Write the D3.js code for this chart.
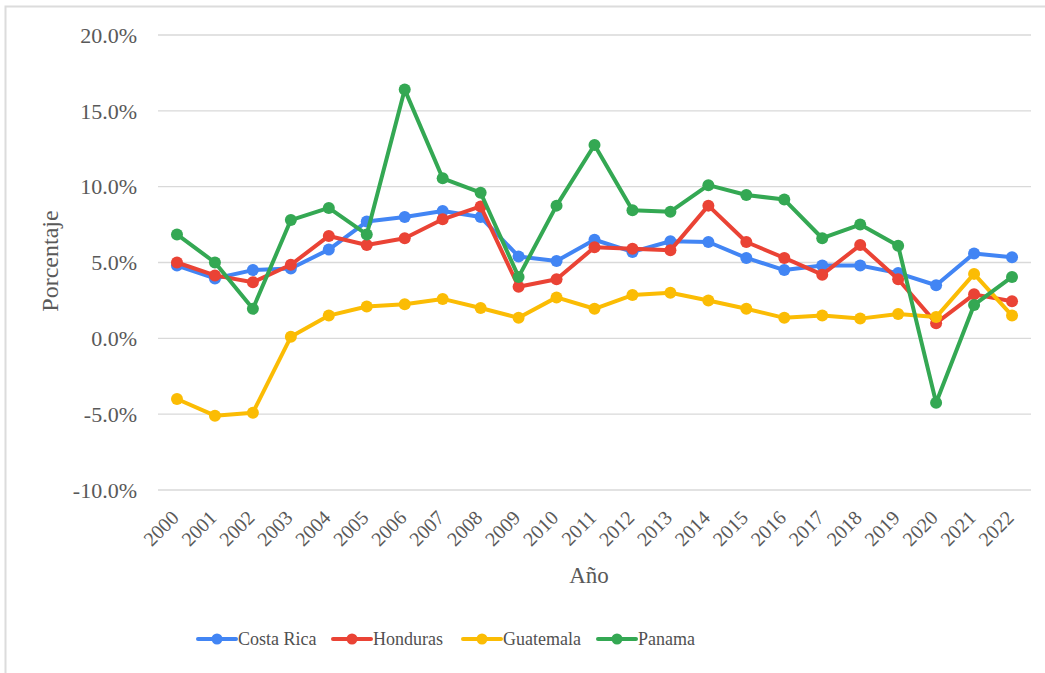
<!DOCTYPE html>
<html>
<head>
<meta charset="utf-8">
<script src="https://cdn.jsdelivr.net/npm/d3@7"></script>
<style>
  body { margin: 0; background: #fff; }
</style>
</head>
<body>
<svg width="1045" height="673"></svg>
<script>
const years = ["2000","2001","2002","2003","2004","2005","2006","2007","2008","2009","2010",
  "2011","2012","2013","2014","2015","2016","2017","2018","2019","2020","2021","2022"];
const costaRica = [4.8, 3.95, 4.5, 4.6, 5.85, 7.7, 8.0, 8.4, 8.0, 5.4, 5.1, 6.5, 5.7, 6.4, 6.35, 5.3, 4.5, 4.8, 4.8, 4.3, 3.5, 5.6, 5.35];
const honduras = [5.0, 4.15, 3.7, 4.85, 6.75, 6.15, 6.6, 7.85, 8.7, 3.4, 3.9, 6.0, 5.9, 5.8, 8.75, 6.35, 5.3, 4.2, 6.15, 3.9, 1.0, 2.9, 2.45];
const guatemala = [-4.0, -5.1, -4.9, 0.1, 1.5, 2.1, 2.25, 2.6, 2.0, 1.35, 2.7, 1.95, 2.85, 3.0, 2.5, 1.95, 1.35, 1.5, 1.3, 1.6, 1.4, 4.25, 1.5];
const panama = [6.85, 5.0, 1.95, 7.8, 8.6, 6.85, 16.4, 10.55, 9.6, 4.05, 8.75, 12.75, 8.45, 8.35, 10.1, 9.45, 9.15, 6.6, 7.5, 6.1, -4.25, 2.2, 4.05];
const yTicks = [-10, -5, 0, 5, 10, 15, 20];

const seriesNames = ["Costa Rica", "Honduras", "Guatemala", "Panama"];
const seriesValues = [costaRica, honduras, guatemala, panama];
const colors = ["#4285F4", "#EA4335", "#FBBC04", "#34A853"];
const font = "'Liberation Serif', 'DejaVu Serif', serif";

const svg = d3.select("svg").attr("font-family", font);

// outer frame (top + left only visible)
svg.append("path")
  .attr("d", "M5.5,673 L5.5,6.5 L1045,6.5")
  .attr("fill", "none")
  .attr("stroke", "#dcdcdc")
  .attr("stroke-width", 2);

const x = d3.scaleBand().domain(years).range([158, 1031]);
const y = d3.scaleLinear().domain([-10, 20]).range([490, 35]);

// gridlines
svg.append("g").selectAll("line")
  .data(yTicks)
  .join("line")
  .attr("x1", 158).attr("x2", 1031)
  .attr("y1", d => y(d)).attr("y2", d => y(d))
  .attr("stroke", "#d9d9d9")
  .attr("stroke-width", 1.3);

// y labels
svg.append("g").selectAll("text")
  .data(yTicks)
  .join("text")
  .attr("x", 137)
  .attr("y", d => y(d))
  .attr("dy", "0.35em")
  .attr("text-anchor", "end")
  .attr("fill", "#595959")
  .attr("font-size", 22)
  .text(d => d.toFixed(1) + "%");

// x labels
svg.append("g").selectAll("text")
  .data(years)
  .join("text")
  .attr("transform", d => `translate(${x(d) + x.bandwidth() / 2 + 3},${519}) rotate(-45)`)
  .attr("text-anchor", "end")
  .attr("fill", "#595959")
  .attr("font-size", 20)
  .text(d => d);

// axis titles
svg.append("text")
  .attr("transform", "translate(58,261) rotate(-90)")
  .attr("text-anchor", "middle")
  .attr("fill", "#595959")
  .attr("font-size", 24)
  .text("Porcentaje");

svg.append("text")
  .attr("x", 589).attr("y", 583)
  .attr("text-anchor", "middle")
  .attr("fill", "#595959")
  .attr("font-size", 23)
  .text("Año");

const line = d3.line()
  .x((d, i) => x(years[i]) + x.bandwidth() / 2)
  .y(d => y(d));

const series = svg.append("g").selectAll("g")
  .data(seriesValues)
  .join("g");

series.append("path")
  .attr("d", d => line(d))
  .attr("fill", "none")
  .attr("stroke", (d, i) => colors[i])
  .attr("stroke-width", 4)
  .attr("stroke-linejoin", "round");

series.each(function (vals, si) {
  d3.select(this).selectAll("circle")
    .data(vals)
    .join("circle")
    .attr("cx", (d, i) => x(years[i]) + x.bandwidth() / 2)
    .attr("cy", d => y(d))
    .attr("r", 6)
    .attr("fill", colors[si]);
});

// legend
const legendX = [198, 333, 463, 598];
const legend = svg.append("g").selectAll("g")
  .data(seriesNames)
  .join("g")
  .attr("transform", (d, i) => `translate(${legendX[i]},639)`);

legend.append("line")
  .attr("x1", 0).attr("x2", 38)
  .attr("stroke", (d, i) => colors[i])
  .attr("stroke-width", 4)
  .attr("stroke-linecap", "round");

legend.append("circle")
  .attr("cx", 19).attr("r", 5.5)
  .attr("fill", (d, i) => colors[i]);

legend.append("text")
  .attr("x", 40)
  .attr("dy", "0.35em")
  .attr("fill", "#505050")
  .attr("font-size", 18)
  .text(d => d);
</script>
</body>
</html>
